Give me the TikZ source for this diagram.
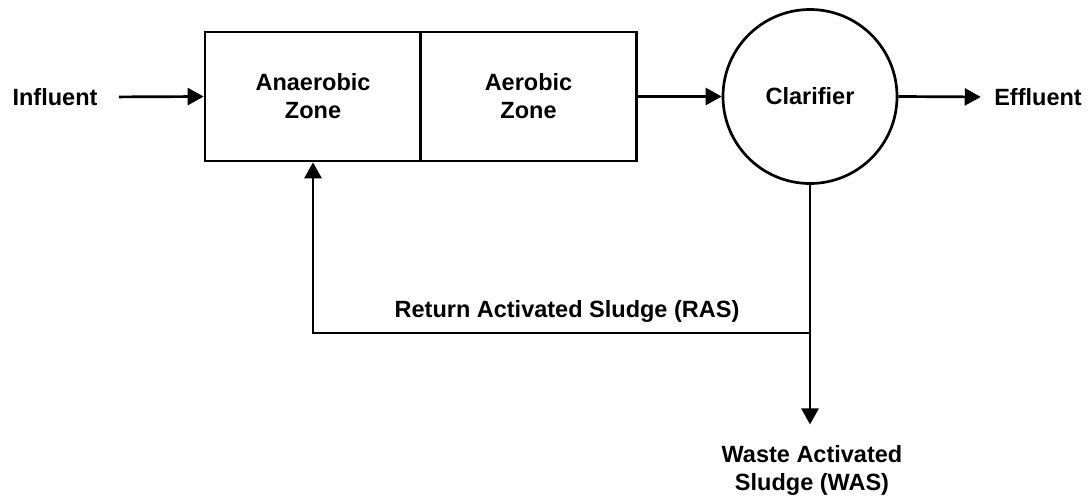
\documentclass[tikz,border=0pt]{standalone}
\usepackage{fontspec}
\setmainfont{Liberation Sans}
\usetikzlibrary{arrows.meta}
\begin{document}
\begin{tikzpicture}[x=1pt,y=-1pt,
  every node/.style={font=\bfseries\fontsize{23.5}{28}\selectfont, align=center},
  zone/.style={draw, line width=2.7pt, minimum width=216pt, minimum height=129pt, inner sep=0pt},
  tank/.style={draw, circle, line width=2.7pt, minimum size=174pt, inner sep=0pt},
  flow/.style={line width=2.7pt, -{Triangle[length=16pt,width=17pt]}},
  pipe/.style={line width=2.7pt}]
  \useasboundingbox (0,0) rectangle (1089,498);

  % reactor zones and clarifier
  \node[zone] (ana) at (313,96.5) {Anaerobic\\Zone};
  \node[zone] (aer) at (528.5,96.5) {Aerobic\\Zone};
  \node[tank] (clar) at (810,96.5) {Clarifier};

  % stream labels
  \node (infl) at (55,97) {Influent};
  \node (effl) at (1038,97) {Effluent};
  \node (ras) at (567,311) {Return Activated Sludge (RAS)};
  \node (was) at (812,470) {Waste Activated\\Sludge (WAS)};

  \coordinate (split) at (810,333);

  % main flow
  \draw[flow, shorten <=18pt] (infl.east) -- (ana.west);
  \draw[flow] (aer.east) -- (clar.west);
  \draw[flow, shorten >=10pt] (clar.east) -- (effl.west);

  % sludge lines
  \draw[pipe] (clar.south) -- (split);
  \draw[flow] (split) -| (ana.south);
  \draw[flow, shorten >=17pt] (split) -- (split |- was.north);
\end{tikzpicture}
\end{document}
